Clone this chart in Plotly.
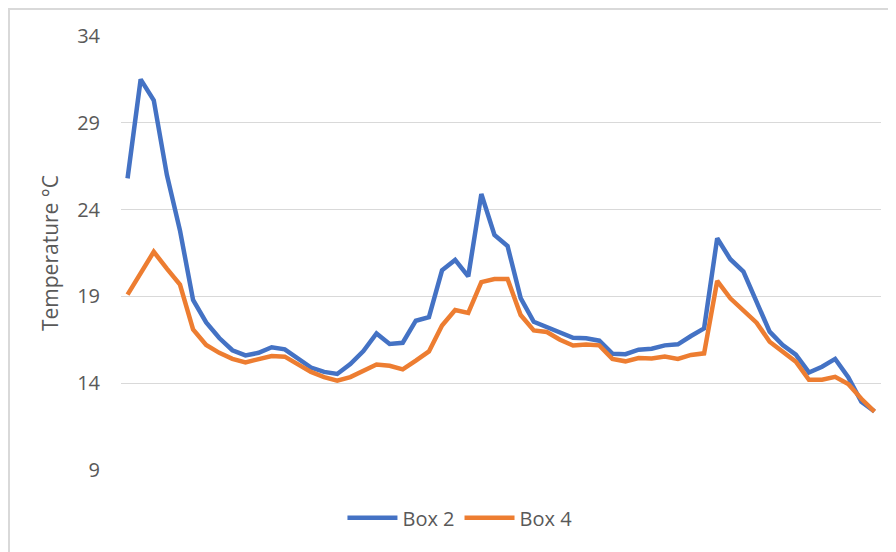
import plotly.graph_objects as go

# Sample index (category axis has no visible labels)
samples = list(range(1, 59))

box2 = [25.8, 31.5, 30.3, 26.0, 22.8, 18.8, 17.5, 16.6, 15.9, 15.6,
        15.75, 16.07, 15.95, 15.4, 14.9, 14.65, 14.53, 15.1, 15.85, 16.87,
        16.26, 16.33, 17.6, 17.8, 20.5, 21.1, 20.15, 24.9, 22.54, 21.9,
        18.9, 17.54, 17.25, 16.9, 16.62, 16.59, 16.45, 15.7, 15.67, 15.93,
        15.99, 16.18, 16.24, 16.72, 17.16, 22.35, 21.14, 20.43, 18.65, 16.97,
        16.2, 15.65, 14.62, 14.95, 15.4, 14.35, 12.93, 12.38]

box4 = [19.1, 20.35, 21.57, 20.6, 19.68, 17.1, 16.2, 15.75, 15.4, 15.2,
        15.38, 15.57, 15.53, 15.1, 14.65, 14.35, 14.14, 14.35, 14.74, 15.08,
        15.0, 14.8, 15.3, 15.83, 17.32, 18.22, 18.05, 19.82, 20.0, 20.0,
        17.93, 17.04, 16.95, 16.5, 16.17, 16.23, 16.18, 15.4, 15.26, 15.45,
        15.43, 15.53, 15.4, 15.63, 15.72, 19.89, 18.89, 18.22, 17.49, 16.39,
        15.81, 15.24, 14.2, 14.2, 14.37, 13.95, 13.1, 12.36]

y_ticks = [9, 14, 19, 24, 29, 34]

BLUE = "#4472C4"
ORANGE = "#ED7D31"
TXT = "#595959"
GRID = "#D9D9D9"
FONT = "Open Sans"

fig = go.Figure()
fig.add_trace(go.Scatter(x=samples, y=box2, mode="lines", name="Box 2",
                         line=dict(color=BLUE, width=4.5)))
fig.add_trace(go.Scatter(x=samples, y=box4, mode="lines", name="Box 4",
                         line=dict(color=ORANGE, width=4.5)))

fig.update_layout(
    width=896, height=552,
    margin=dict(l=113, r=23, t=28, b=90),
    paper_bgcolor="white", plot_bgcolor="white",
    font=dict(family=FONT, size=20, color=TXT),
    showlegend=True,
    legend=dict(orientation="h", x=0.446, xanchor="center", y=-0.11, yanchor="middle",
                font=dict(family=FONT, size=20, color=TXT), itemwidth=50,
                bgcolor="rgba(0,0,0,0)"),
    shapes=[dict(type="rect", xref="paper", yref="paper",
                 x0=-0.1474, x1=1.2, y0=-0.4, y1=1.0622,
                 line=dict(color=GRID, width=2), fillcolor="rgba(0,0,0,0)", layer="below")],
)
fig.update_xaxes(range=[0.5, 58.5], showgrid=False, showticklabels=False, ticks="",
                 showline=False, zeroline=False)
fig.update_yaxes(range=[9, 34], tickvals=y_ticks, showgrid=True, gridcolor=GRID, gridwidth=1.3,
                 zeroline=False, showline=False, ticks="", ticklabelstandoff=20,
                 tickfont=dict(family=FONT, size=20, color=TXT),
                 title=dict(text="Temperature °C", standoff=12,
                            font=dict(family=FONT, size=21, color=TXT)))

fig.write_html("out.html")
